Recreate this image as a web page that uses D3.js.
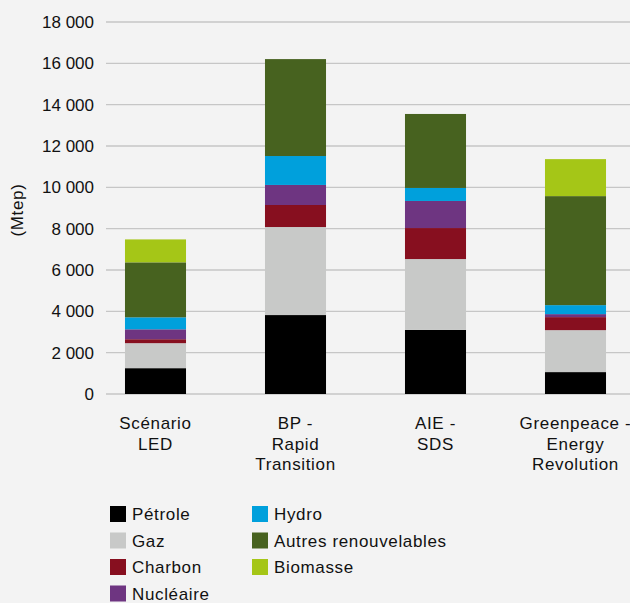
<!DOCTYPE html>
<html><head><meta charset="utf-8">
<script src="https://cdn.jsdelivr.net/npm/d3@7/dist/d3.min.js"></script>
<style>
html,body{margin:0;padding:0;background:#f3f3f3;}
svg{display:block;font-family:"Liberation Sans",Arial,Helvetica,sans-serif;}
</style></head>
<body>
<svg id="chart" width="630" height="603"></svg>
<script>
const categories = [["Scénario","LED"],["BP -","Rapid","Transition"],["AIE -","SDS"],["Greenpeace -","Energy","Revolution"]];
const seriesNames = ["Pétrole","Gaz","Charbon","Nucléaire","Hydro","Autres renouvelables","Biomasse"];
const petrole   = [1250, 3820, 3100, 1060];
const gaz       = [1210, 4260, 3430, 2030];
const charbon   = [190, 1065, 1500, 630];
const nucleaire = [480, 970, 1310, 145];
const hydro     = [580, 1400, 630, 435];
const autres    = [2660, 4690, 3580, 5275];
const biomasse  = [1110, 0, 0, 1790];
const yTicks = [0,2000,4000,6000,8000,10000,12000,14000,16000,18000];
const colors = ["#000000","#c8c9c8","#870f1f","#6e3581","#00a0dc","#47621f","#a5c617"];

const seriesValues = [petrole,gaz,charbon,nucleaire,hydro,autres,biomasse];
const keys = categories.map(c=>c.join(" "));
const rows = keys.map((k,i)=>{const o={cat:k}; seriesNames.forEach((s,j)=>o[s]=seriesValues[j][i]); return o;});
const stack = d3.stack().keys(seriesNames)(rows);

const svg = d3.select("#chart");
const x = d3.scaleBand().domain(keys).range([85.5,645.5]).paddingInner(0.564).paddingOuter(0.282);
const y = d3.scaleLinear().domain([0,18000]).range([394,22]);
const fmt = v => d3.format(",")(v).replace(/,/g," ");
const FS = 17, LS = 0.65, TXT = "#111";

// gridlines
svg.append("g").selectAll("line").data(yTicks).join("line")
  .attr("x1",106).attr("x2",630)
  .attr("y1",d=>y(d)).attr("y2",d=>y(d))
  .attr("stroke","#c6c6c6").attr("stroke-width",1.3);

// y labels
svg.append("g").selectAll("text").data(yTicks).join("text")
  .attr("x",94).attr("y",d=>y(d)).attr("dy","0.35em")
  .attr("text-anchor","end").attr("font-size",FS).attr("fill",TXT)
  .text(fmt);

svg.append("text").attr("transform","translate(23,210) rotate(-90)")
  .attr("text-anchor","middle").attr("font-size",FS).attr("letter-spacing",LS).attr("fill",TXT).text("(Mtep)");

// bars
svg.append("g").selectAll("g").data(stack).join("g")
  .attr("fill",(d,i)=>colors[i])
  .selectAll("rect").data(d=>d).join("rect")
  .attr("x",d=>x(d.data.cat)).attr("width",x.bandwidth())
  .attr("y",d=>y(d[1])).attr("height",d=>y(d[0])-y(d[1]));

// x labels
const xl = svg.append("g").selectAll("text").data(categories).join("text")
  .attr("x",(d,i)=>x(keys[i])+x.bandwidth()/2).attr("y",429)
  .attr("text-anchor","middle").attr("font-size",FS).attr("letter-spacing",LS).attr("fill",TXT);
xl.selectAll("tspan").data(d=>d).join("tspan")
  .attr("x",function(){return this.parentNode.getAttribute("x");})
  .attr("dy",(d,i)=>i===0?0:20.5).text(d=>d);

// legend
const legendPos = [[0,0],[0,1],[0,2],[0,3],[1,0],[1,1],[1,2]];
const lg = svg.append("g").selectAll("g").data(seriesNames).join("g")
  .attr("transform",(d,i)=>`translate(${legendPos[i][0]?252:110},${506+legendPos[i][1]*26.5})`);
lg.append("rect").attr("width",16).attr("height",16).attr("fill",(d,i)=>colors[i]);
lg.append("text").attr("x",22).attr("y",8).attr("dy","0.36em").attr("font-size",FS).attr("letter-spacing",LS).attr("fill",TXT).text(d=>d);
</script>
</body></html>
